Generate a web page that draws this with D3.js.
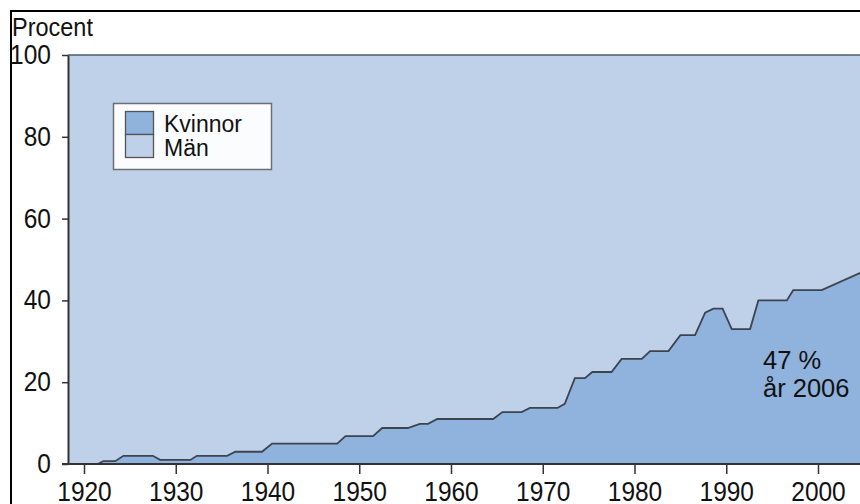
<!DOCTYPE html>
<html>
<head>
<meta charset="utf-8">
<script src="https://cdn.jsdelivr.net/npm/d3@7"></script>
<style>
  body { margin: 0; background: #fff; }
  svg { display: block; font-family: "Liberation Sans", Arial, sans-serif; }
</style>
</head>
<body>
<div id="chart"></div>
<script>
// women's share (%) - at the bends of the line
const years = [1921.5, 1922.1, 1923.4, 1924.3, 1927.5, 1928.3, 1931.6, 1932.3, 1935.6, 1936.5,
  1939.4, 1940.5, 1947.6, 1948.5, 1951.5, 1952.5, 1955.3, 1956.6, 1957.5, 1958.5,
  1964.6, 1965.6, 1967.7, 1968.6, 1971.6, 1972.4, 1973.5, 1974.6, 1975.4, 1977.5,
  1978.6, 1980.8, 1981.7, 1983.7, 1985.0, 1986.6, 1987.7, 1988.6, 1989.6, 1990.6,
  1992.6, 1993.5, 1996.6, 1997.3, 2000.4, 2004.6, 2006];
const women = [0, 0.7, 0.7, 2, 2, 1, 1, 2, 2, 3,
  3, 5, 5, 6.8, 6.8, 8.8, 8.8, 9.8, 9.8, 11,
  11, 12.7, 12.7, 13.7, 13.7, 14.7, 21, 21, 22.5, 22.5,
  25.7, 25.7, 27.6, 27.6, 31.5, 31.5, 37, 38, 38, 33,
  33, 40, 40, 42.5, 42.5, 46.7, 47];

const xTicks = [1920, 1930, 1940, 1950, 1960, 1970, 1980, 1990, 2000];
const yTicks = [0, 20, 40, 60, 80, 100];
const legendItems = ["Kvinnor", "Män"];

const W = 860, H = 504;
const colWomen = "#8fb3dd";
const colMen = "#bfd1e8";
const stretch = "scale(1,1.1)"; // axis type is a little taller than Arial

const svg = d3.select("#chart").append("svg")
  .attr("width", W)
  .attr("height", H);

// frame (top + left, the rest is cut off)
svg.append("path")
  .attr("d", `M11,${H} L11,11 L${W},11`)
  .attr("fill", "none")
  .attr("stroke", "#000")
  .attr("stroke-width", 2);

const x = d3.scaleLinear().domain([1920, 2000]).range([84, 818]);
const y = d3.scaleLinear().domain([0, 100]).range([464, 55]);
const plotLeft = 68;

const data = years.map((yr, i) => ({ yr: yr, v: women[i] }));
const full = [{ yr: x.invert(plotLeft), v: 0 }].concat(data);

// men = the rest up to 100
const menArea = d3.area()
  .x(d => x(d.yr))
  .y0(d => y(d.v))
  .y1(y(100));

svg.append("path")
  .datum(full)
  .attr("fill", colMen)
  .attr("d", menArea);

const womenArea = d3.area()
  .x(d => x(d.yr))
  .y0(y(0))
  .y1(d => y(d.v));

svg.append("path")
  .datum(data)
  .attr("fill", colWomen)
  .attr("d", womenArea);

const line = d3.line()
  .x(d => x(d.yr))
  .y(d => y(d.v));

svg.append("path")
  .datum(data)
  .attr("fill", "none")
  .attr("stroke", "#3c4450")
  .attr("stroke-width", 1.8)
  .attr("d", line);

// thin line along 100
svg.append("line")
  .attr("x1", plotLeft).attr("x2", W)
  .attr("y1", y(100)).attr("y2", y(100))
  .attr("stroke", "#4d5a6c")
  .attr("stroke-width", 1.5);

// axes
const yAxis = d3.axisLeft(y)
  .tickValues(yTicks)
  .tickSize(6)
  .tickSizeOuter(0);

const gy = svg.append("g")
  .attr("transform", `translate(${plotLeft},0)`)
  .call(yAxis);

const xAxis = d3.axisBottom(x)
  .tickValues(xTicks)
  .tickFormat(d3.format("d"))
  .tickSize(10)
  .tickSizeOuter(0);

const gx = svg.append("g")
  .attr("transform", `translate(0,${y(0)})`)
  .call(xAxis);

gx.select(".domain").remove();
gx.append("line")
  .attr("x1", plotLeft - 6).attr("x2", W)
  .attr("stroke", "#333")
  .attr("stroke-width", 2);

gy.select(".domain").attr("stroke", "#333").attr("stroke-width", 2);
[gx, gy].forEach(g => {
  g.selectAll(".tick line").attr("stroke", "#333").attr("stroke-width", 1.5);
  g.selectAll(".tick text")
    .attr("fill", "#111")
    .attr("x", null).attr("y", null).attr("dy", null)
    .style("font-size", "24.5px")
    .style("font-family", "'Liberation Sans', Arial, sans-serif");
});
gx.selectAll(".tick text").attr("transform", "translate(0,37) " + stretch);
gy.selectAll(".tick text").attr("transform", "translate(-17,8.5) " + stretch);

svg.append("text")
  .attr("transform", "translate(12,36) " + stretch)
  .attr("fill", "#111")
  .style("font-size", "23.5px")
  .text("Procent");

// legend
const legend = svg.append("g");
legend.append("rect")
  .attr("x", 113.5).attr("y", 103.5)
  .attr("width", 158).attr("height", 66)
  .attr("fill", "#fbfcfd")
  .attr("stroke", "#6b6f75")
  .attr("stroke-width", 1.5);

legend.selectAll("rect.sw")
  .data(legendItems)
  .enter()
  .append("rect")
  .attr("class", "sw")
  .attr("x", 125.5)
  .attr("y", (d, i) => 111.5 + i * 23)
  .attr("width", 28)
  .attr("height", 23)
  .attr("fill", (d, i) => i === 0 ? colWomen : colMen)
  .attr("stroke", "#555")
  .attr("stroke-width", 1.3);

legend.selectAll("text")
  .data(legendItems)
  .enter()
  .append("text")
  .attr("x", 164)
  .attr("y", (d, i) => 132 + i * 24)
  .attr("fill", "#111")
  .style("font-size", "23px")
  .text(d => d);

// annotation
svg.append("text")
  .attr("x", 763).attr("y", 369)
  .attr("fill", "#111")
  .style("font-size", "25.5px")
  .text("47 %");
svg.append("text")
  .attr("x", 763).attr("y", 397)
  .attr("fill", "#111")
  .style("font-size", "25.5px")
  .text("år 2006");
</script>
</body>
</html>
